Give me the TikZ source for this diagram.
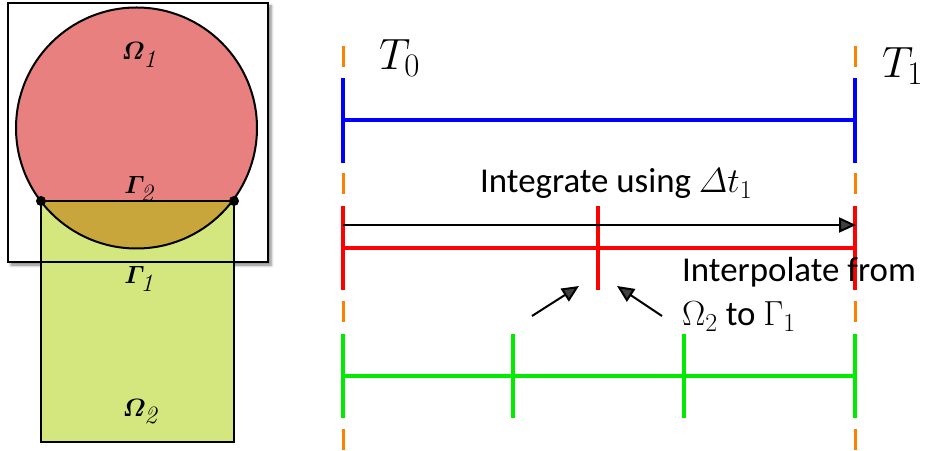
\RequirePackage{fix-cm}
\documentclass[tikz,border=0pt]{standalone}
\usepackage{fontspec}
\newfontfamily\calib{Carlito}
\usetikzlibrary{arrows.meta,shadows.blur}
\definecolor{redfill}{RGB}{232,128,128}
\definecolor{greenfill}{RGB}{212,230,126}
\definecolor{olivefill}{RGB}{200,166,60}
\definecolor{tblue}{RGB}{0,0,255}
\definecolor{tred}{RGB}{255,0,0}
\definecolor{tgreen}{RGB}{0,235,0}
\definecolor{torange}{RGB}{255,128,0}
\newcommand{\bigsub}[2]{\mbox{\rmfamily\fontsize{#1}{#1}\selectfont #2}}
\tikzset{
  outline/.style={draw=black,line width=2bp},
  domlabel/.style={anchor=base,inner sep=0pt,font=\fontsize{25}{28}\selectfont\boldmath},
  tlabel/.style={anchor=base west,inner sep=0pt,font=\fontsize{44}{50}\selectfont},
  txt/.style={anchor=base west,inner sep=0pt,font=\calib\fontsize{35}{40}\selectfont},
  guide/.style={torange,line width=3bp,dash pattern=on 21bp off 21.5bp},
  bar/.style={line width=3.5bp},
  pointer/.style={line width=2bp,-{Triangle[length=17bp,width=15bp]}},
}
\begin{document}
\begin{tikzpicture}[x=1bp,y=-1bp]
\useasboundingbox (0,0) rectangle (937,451);
% ---------- left: domains ----------
\coordinate (c) at (136.5,128);
\coordinate (dl) at (41,201);
\coordinate (dr) at (234,201);
\path[fill=white,blur shadow={shadow xshift=3bp,shadow yshift=-3bp,shadow blur radius=3bp,shadow opacity=50}] (8,3) rectangle (268,262);
\fill[greenfill] (41,201) rectangle (234,442);
\draw[outline] (41,201) rectangle (234,442);
\fill[redfill] (c) circle (120.5);
\begin{scope}
  \clip (41,201) rectangle (234,442);
  \fill[olivefill] (c) circle (120.5);
\end{scope}
\draw[outline] (c) circle (120.5);
\draw[outline] (dl) -- (dr);
\draw[outline] (8,3) rectangle (268,262);
\fill (dl) circle (5);
\fill (dr) circle (5);
\node[domlabel] (om1) at (139,60) {$\mathnormal{\Omega}_{\textit{1}}$};
\node[domlabel] (ga2) at (139,194) {$\mathnormal{\Gamma}_{\textit{2}}$};
\node[domlabel] (ga1) at (139,284) {$\mathnormal{\Gamma}_{\textit{1}}$};
\node[domlabel] (om2) at (140,416) {$\mathnormal{\Omega}_{\textit{2}}$};
% ---------- right: time lines ----------
\coordinate (gL0) at (343,46);
\coordinate (gL1) at (343,451);
\coordinate (gR0) at (855,46);
\coordinate (gR1) at (855,451);
\draw[guide] (gL0) -- (gL1);
\draw[guide] (gR0) -- (gR1);
% blue
\coordinate (bL) at (343,120); \coordinate (bR) at (855,120);
\draw[tblue,bar] (bL) -- (bR);
\draw[tblue,bar] (343,78) -- (343,163);
\draw[tblue,bar] (855,78) -- (855,163);
% black arrow
\coordinate (aL) at (343,225); \coordinate (aR) at (856,225);
% red
\coordinate (rL) at (343,248); \coordinate (rR) at (855,248);
\draw[tred,bar] (rL) -- (rR);
\draw[tred,bar] (343,206) -- (343,290);
\draw[tred,bar] (598,206) -- (598,290);
\draw[tred,bar] (855,206) -- (855,290);
\draw[pointer] (aL) -- (aR);
% green
\coordinate (gnL) at (343,376); \coordinate (gnR) at (855,376);
\draw[tgreen,line width=4bp] (gnL) -- (gnR);
\foreach \x in {343,513,684,855}
  \draw[tgreen,bar] (\x,334) -- (\x,418);
% labels
\node[tlabel] (t0) at (379,70) {$T_{\bigsub{33}{0}}$};
\node[tlabel] (t1) at (882,78) {$T_{\bigsub{33}{1}}$};
\node[txt] (integ) at (480,193) {Integrate using $\mathnormal{\Delta} t_{\bigsub{26}{1}}$};
\node[txt] (interp) at (682,282) {Interpolate from};
\node[txt] (interp2) at (682,326) {$\Omega_{\bigsub{26}{2}}$ to $\Gamma_{\bigsub{26}{1}}$};
% pointers
\coordinate (p1s) at (532,316); \coordinate (p1e) at (579,286);
\coordinate (p2s) at (662,316); \coordinate (p2e) at (617,286);
\draw[pointer] (p1s) -- (p1e);
\draw[pointer] (p2s) -- (p2e);
\end{tikzpicture}
\end{document}
